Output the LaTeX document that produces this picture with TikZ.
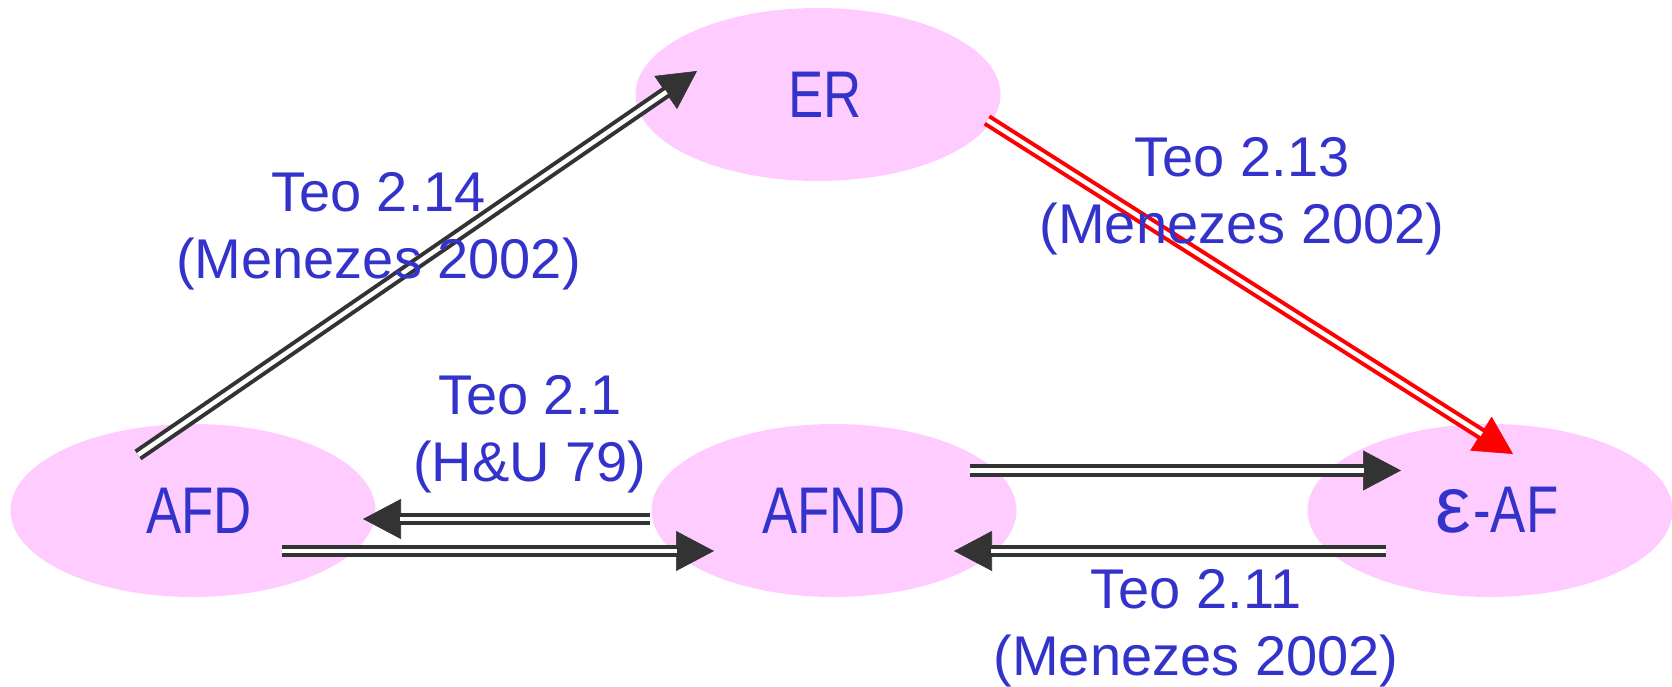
\documentclass[tikz,border=0pt]{standalone}
\usepackage{fontspec}
\usetikzlibrary{arrows.meta,shapes.geometric}
\newfontfamily\labfont{Liberation Sans}
\newfontfamily\nodefont[FakeStretch=0.8]{Liberation Sans}
\definecolor{pinkfill}{HTML}{FFCCFF}
\definecolor{dark}{HTML}{333333}
\definecolor{redarr}{HTML}{FF0000}
\definecolor{bluetext}{HTML}{3333CC}
\tikzset{
  state/.style={ellipse, fill=pinkfill, draw=none, minimum width=365pt, minimum height=173pt, inner sep=0pt,
    text=bluetext, font=\nodefont\fontsize{66}{66}\selectfont},
  lab/.style={text=bluetext, align=center, inner sep=0pt, font=\labfont\fontsize{56}{67}\selectfont},
  tipline/.style={draw=#1, fill=#1, line width=0.6pt, -{Triangle[length=38pt,width=40pt]}},
  dblline/.style={draw=#1, double=white, line width=4pt, double distance=4.5pt, shorten >=37pt},
}
\newcommand\dblarrow[3]{\draw[tipline=#1] (#2) -- (#3); \draw[dblline=#1] (#2) -- (#3);}
\begin{document}
\begin{tikzpicture}[x=1pt,y=-1pt]
\useasboundingbox (0,0) rectangle (1672,687);
% states
\node[state] (ER) at (818,94.5) {\hspace*{14pt}ER};
\node[state] (AFD) at (193,510.5) {\hspace*{12pt}AFD};
\node[state] (AFND) at (834,510.5) {AFND};
\node[state] (EAF) at (1490,510.5) {\hspace*{14pt}{\labfont\fontsize{80}{80}\selectfont ε}\kern2pt-AF};
% arrow end points
\coordinate (s1) at (138,455);  \coordinate (t1) at (697,71);
\coordinate (s2) at (987,120);  \coordinate (t2) at (1513,454);
\coordinate (s3) at (650,519);  \coordinate (t3) at (363,519);
\coordinate (s4) at (282,551);  \coordinate (t4) at (714,551);
\coordinate (s5) at (970,470.5); \coordinate (t5) at (1401,470.5);
\coordinate (s6) at (1386,551); \coordinate (t6) at (954,551);
% connectors
\dblarrow{dark}{s1}{t1}
\dblarrow{redarr}{s2}{t2}
\dblarrow{dark}{s3}{t3}
\dblarrow{dark}{s4}{t4}
\dblarrow{dark}{s5}{t5}
\dblarrow{dark}{s6}{t6}
% labels
\node[lab] (L1) at (378.5,231) {Teo 2.14\\(Menezes 2002)};
\node[lab] (L2) at (1242,196) {Teo 2.13\\(Menezes 2002)};
\node[lab] (L3) at (530,434) {Teo 2.1\\(H\&U 79)};
\node[lab] (L4) at (1196,628) {Teo 2.11\\(Menezes 2002)};
\end{tikzpicture}
\end{document}
